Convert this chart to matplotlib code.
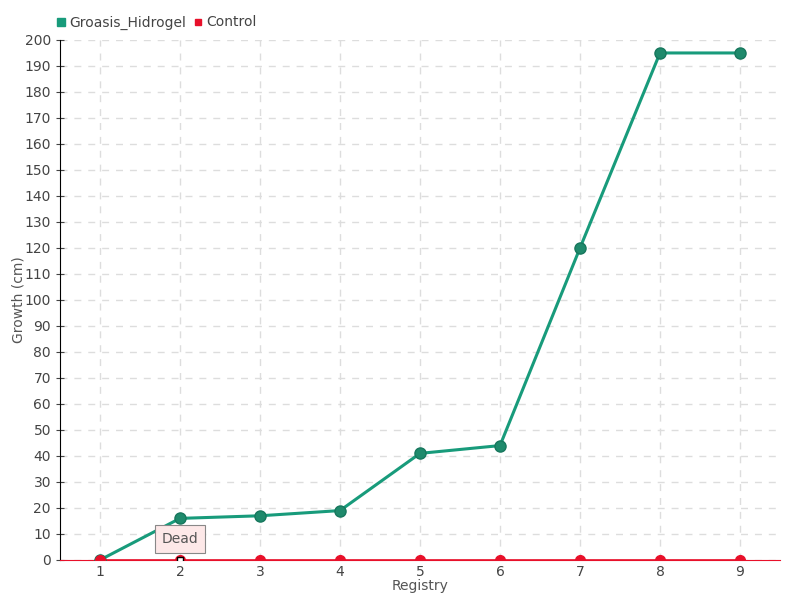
import matplotlib.pyplot as plt

registry = [1, 2, 3, 4, 5, 6, 7, 8, 9]
groasis = [0, 16, 17, 19, 41, 44, 120, 195, 195]
control = [0, 0, 0, 0, 0, 0, 0, 0, 0]

plt.rcParams['font.family'] = ['DejaVu Sans']

fig = plt.figure(figsize=(8, 6), dpi=100)
ax = fig.add_axes([0.075, 0.0667, 0.9, 0.8667])

green = '#189b7b'
red = '#e8102a'

ax.plot(registry, groasis, color=green, lw=2.2, marker='o', markersize=8,
        markerfacecolor='#1f8a6c', markeredgecolor='#17775d', zorder=3,
        label='Groasis_Hidrogel')
ax.plot(registry, control, color=red, lw=1.2, marker='o', markersize=7,
        markerfacecolor=red, markeredgecolor=red, zorder=4, label='Control')

ax.set_xlim(0.5, 9.5)
ax.set_ylim(0, 200)
ax.set_xticks(registry)
ax.set_yticks(range(0, 201, 10))
ax.tick_params(axis='both', labelsize=10, colors='#444444', direction='inout', length=6)
ax.tick_params(axis='x', length=0)
ax.grid(True, color='#dddddd', linestyle=(0, (5, 5)), lw=1)
ax.set_axisbelow(True)

for s in ['top', 'right']:
    ax.spines[s].set_visible(False)
ax.spines['bottom'].set_color(red)
ax.spines['left'].set_color('black')

ax.set_xlabel('Registry', fontsize=10, color='#555555', labelpad=0)
ax.set_ylabel('Growth (cm)', fontsize=10, color='#555555')
ax.yaxis.set_label_coords(-0.048, 0.5)

ax.annotate('Dead', xy=(2, 0), xytext=(2, 8), ha='center', va='center',
            fontsize=10, color='#555555',
            bbox=dict(boxstyle='square,pad=0.5', fc='#fde8e8', ec='#888888', lw=0.8),
            zorder=5)
ax.plot([2], [0], marker='s', markersize=5, color='white', markeredgecolor='black', zorder=6)

leg = fig.legend(loc='upper left', bbox_to_anchor=(0.055, 0.995), ncol=2, frameon=False,
                 fontsize=10, handlelength=0.6, handletextpad=0.3, columnspacing=0.6,
                 markerscale=0.7)
for h, c in zip(leg.legend_handles, [green, red]):
    h.set_linestyle('')
    h.set_marker('s')
    h.set_markerfacecolor(c)
    h.set_markeredgecolor(c)
for t in leg.get_texts():
    t.set_color('#444444')

fig.savefig('out.png', dpi=100)
